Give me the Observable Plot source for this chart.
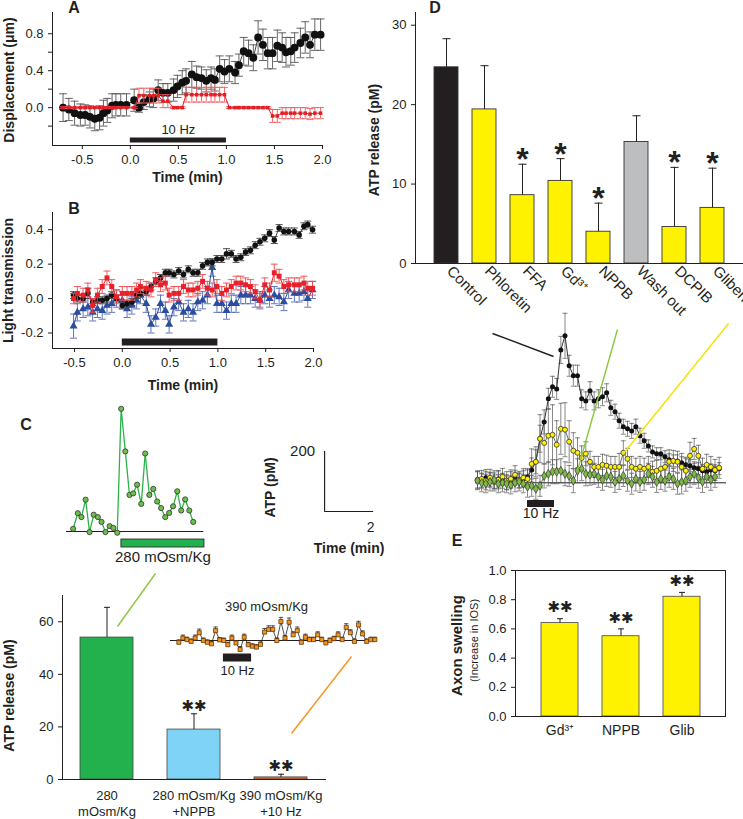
<!DOCTYPE html>
<html><head><meta charset="utf-8">
<script src="https://cdn.jsdelivr.net/npm/d3@7"></script>
<script src="https://cdn.jsdelivr.net/npm/@observablehq/plot@0.6"></script>
<style>
html,body{margin:0;padding:0;background:#fff;}
#fig{position:relative;width:743px;height:819px;overflow:hidden;font-family:'Liberation Sans',Arial,Helvetica,sans-serif;color:#231f20;}
#fig svg{position:absolute;left:0;top:0;}
.lbl{position:absolute;font-weight:bold;font-size:16px;line-height:1;transform:translate(-50%,-50%);}
</style></head><body><div id="fig"></div>
<script>
// ---------------- DATA ----------------
// Panel A: displacement (µm) vs time (min)
const timeA = [-0.70,-0.64,-0.58,-0.52,-0.47,-0.42,-0.37,-0.32,-0.28,-0.24,-0.19,-0.15,-0.10,-0.04,0.04,0.09,0.14,0.20,0.24,0.29,0.34,0.39,0.45,0.49,0.54,0.58,0.64,0.69,0.74,0.79,0.84,0.88,0.93,0.98,1.03,1.09,1.13,1.18,1.23,1.28,1.33,1.38,1.43,1.48,1.53,1.58,1.62,1.67,1.71,1.77,1.82,1.87,1.92,1.98];
const dispStim = [0.0,-0.02,-0.06,-0.08,-0.08,-0.10,-0.12,-0.11,-0.06,-0.03,0.02,0.03,0.03,0.03,0.08,0.0,0.06,0.09,0.10,0.19,0.16,0.16,0.19,0.23,0.27,0.29,0.36,0.33,0.32,0.29,0.32,0.30,0.42,0.39,0.42,0.38,0.46,0.61,0.59,0.54,0.76,0.68,0.59,0.59,0.67,0.65,0.60,0.61,0.65,0.70,0.76,0.68,0.79,0.79];
const dispStimErr = [0.15,0.12,0.13,0.12,0.11,0.12,0.13,0.13,0.14,0.13,0.13,0.12,0.12,0.12,0.12,0.05,0.08,0.08,0.10,0.11,0.10,0.10,0.12,0.12,0.13,0.13,0.14,0.12,0.12,0.12,0.12,0.12,0.14,0.13,0.14,0.12,0.12,0.15,0.14,0.14,0.18,0.17,0.17,0.17,0.17,0.16,0.16,0.15,0.16,0.16,0.17,0.14,0.17,0.17];
const dispCtrl = [0,0,0,0,0,0,0,0,0,0,0,0,0,0,0,0.13,0.13,0.13,0.13,0.13,0.07,0.07,0,0,0,0.14,0.14,0.14,0.14,0.14,0.14,0.14,0.14,0.14,0,0,0,0,0,0,0,0,0,-0.09,-0.09,-0.06,-0.06,-0.06,-0.06,-0.06,-0.06,-0.07,-0.06,-0.06];
const dispCtrlErr = [0.01,0.01,0.01,0.01,0.01,0.01,0.01,0.01,0.01,0.01,0.01,0.01,0.01,0.01,0.01,0.08,0.08,0.08,0.08,0.08,0.07,0.07,0.01,0.01,0.01,0.08,0.08,0.08,0.08,0.08,0.08,0.08,0.08,0.08,0.01,0.01,0.01,0.01,0.01,0.01,0.01,0.01,0.01,0.07,0.07,0.06,0.06,0.06,0.06,0.06,0.06,0.06,0.06,0.06];
const stimA = [0, 1];

// Panel B: light transmission vs time (min)
const timeB = [-0.51,-0.47,-0.41,-0.36,-0.31,-0.26,-0.21,-0.16,-0.11,-0.06,0.0,0.05,0.10,0.15,0.19,0.25,0.30,0.35,0.40,0.45,0.49,0.54,0.59,0.64,0.69,0.74,0.79,0.84,0.89,0.94,0.99,1.04,1.09,1.14,1.19,1.24,1.29,1.34,1.39,1.44,1.49,1.54,1.59,1.64,1.69,1.74,1.80,1.85,1.90,1.94,1.99];
const ltBlack = [0.02,0.0,0.0,0.03,-0.02,-0.01,-0.01,0.0,0.02,0.0,-0.04,-0.03,-0.02,0.02,0.03,0.04,0.07,0.10,0.12,0.15,0.15,0.14,0.16,0.14,0.17,0.15,0.15,0.19,0.21,0.21,0.23,0.23,0.26,0.26,0.23,0.24,0.27,0.28,0.31,0.33,0.35,0.38,0.34,0.41,0.39,0.39,0.39,0.37,0.42,0.43,0.40];
const ltBlackErr = [0.02,0.02,0.02,0.03,0.02,0.02,0.02,0.02,0.02,0.02,0.02,0.02,0.02,0.02,0.02,0.02,0.02,0.02,0.02,0.02,0.02,0.02,0.02,0.02,0.02,0.02,0.02,0.02,0.02,0.02,0.02,0.02,0.03,0.02,0.02,0.02,0.02,0.02,0.02,0.02,0.02,0.02,0.02,0.02,0.02,0.02,0.02,0.02,0.02,0.02,0.02];
const ltRed = [0.0,0.03,0.02,0.05,-0.04,0.02,0.07,0.12,0.07,0.01,0.03,0.03,0.03,0.05,0.07,0.06,0.05,0.11,0.08,0.09,0.02,0.03,0.03,0.07,0.05,0.05,0.06,0.10,0.06,0.05,0.07,0.03,0.05,0.07,0.09,0.09,0.08,0.07,0.04,-0.01,0.08,0.05,0.15,0.13,0.07,0.08,0.08,0.08,0.09,0.06,0.06];
const ltRedErr = [0.03,0.04,0.04,0.04,0.04,0.04,0.04,0.04,0.04,0.04,0.04,0.04,0.04,0.04,0.04,0.04,0.04,0.04,0.04,0.04,0.04,0.04,0.04,0.04,0.04,0.04,0.04,0.04,0.04,0.04,0.04,0.04,0.04,0.04,0.04,0.04,0.04,0.04,0.04,0.04,0.04,0.04,0.05,0.04,0.04,0.04,0.04,0.04,0.04,0.04,0.04];
const ltBlue = [-0.16,-0.08,-0.06,-0.05,-0.08,-0.06,-0.07,-0.04,-0.03,0.0,-0.01,-0.06,-0.04,-0.01,0.02,-0.03,-0.15,-0.11,-0.03,-0.07,-0.15,-0.05,-0.02,-0.08,-0.06,-0.08,-0.02,-0.01,0.02,0.18,-0.03,-0.03,-0.07,-0.03,-0.03,0.02,0.02,0.02,0.0,-0.01,0.02,0.0,0.02,0.01,-0.02,0.05,0.03,0.03,0.04,0.0,0.05];
const ltBlueErr = [0.07,0.05,0.05,0.05,0.05,0.05,0.05,0.05,0.05,0.05,0.05,0.05,0.05,0.05,0.05,0.05,0.05,0.05,0.05,0.05,0.05,0.05,0.05,0.05,0.05,0.05,0.05,0.05,0.05,0.05,0.05,0.05,0.05,0.05,0.05,0.05,0.05,0.05,0.05,0.05,0.05,0.05,0.05,0.05,0.05,0.05,0.05,0.05,0.05,0.05,0.05];
const stimB = [0, 1];

// Panel C inset: ATP (pM) during 280 mOsm/Kg
const timeC = [0.27,0.46,0.61,0.78,0.94,1.11,1.28,1.43,1.59,1.76,1.91,2.07,2.23,2.40,2.57,2.72,2.88,3.05,3.21,3.38,3.54,3.70,3.86,4.03,4.19,4.35,4.52,4.68,4.84,5.01,5.17];
const atpC = [9,61,48,106,-2,56,48,32,-2,18,12,-4,409,267,122,127,156,92,260,122,142,100,78,48,62,84,134,70,107,70,32];
const spanC = [0, 5.6];
const stimC = [2.24, 5.63];
const scaleBar = {t: 10.53, v: 66.7, dv: 200, dt: 2};

// Panel C inset: 390 mOsm/Kg + 10 Hz (10 s samples)
const atp390 = [-6,8,3,-3,8,26,0,-6,-11,33,2,0,-14,8,-8,-30,11,-14,-19,-22,-13,28,37,37,0,63,8,61,19,33,-6,11,3,3,19,3,-8,0,6,19,3,44,26,-3,52,22,-3,3,3];
const atp390Err = [8,10,8,8,10,12,8,8,8,12,8,8,8,10,8,10,10,8,8,8,8,12,12,12,8,14,8,14,10,12,8,10,8,8,10,8,8,8,8,10,8,12,10,8,12,10,8,8,8];
const t0_390 = 0.34, dt390 = 1/6;
const span390 = [0, 8.37];
const stim390 = [2.16, 3.31];

// Panel C bars
const cLabels = ["280\nmOsm/Kg", "280 mOsm/Kg\n+NPPB", "390 mOsm/Kg\n+10 Hz"];
const cValues = [54, 19, 0.8];
const cErrors = [11.5, 6, 1.2];
const cSig = ["", "✱✱", "✱✱"];

// Panel D bars
const dCats = ["Control","Phloretin","FFA","Gd³⁺","NPPB","Wash out","DCPIB","Gliben"];
const dValues = [24.7, 19.4, 8.6, 10.4, 4.0, 15.3, 4.6, 7.0];
const dErrors = [3.6, 5.5, 3.9, 2.8, 3.6, 3.3, 7.5, 5.0];
const dSig = ["", "", "*", "*", "*", "", "*", "*"];

// Panel D inset traces (ATP pM, 10 s samples)
const dtD = 1/6;
const dTraceBlack = [10,7,17,10,3,13,7,0,10,17,7,13,20,43,70,147,203,280,320,313,443,490,390,357,357,280,273,307,273,280,287,300,250,237,207,187,180,173,187,157,140,123,103,97,97,87,77,73,73,67,60,57,50,47,40,37,43,40,47];
const dTraceBlackErr = [27,25,27,25,23,27,25,23,27,25,23,27,27,40,40,45,40,35,35,35,45,75,35,35,35,30,30,30,30,30,30,30,25,25,25,25,25,25,25,25,25,20,20,20,20,20,20,20,20,20,20,20,20,20,20,20,20,20,20];
const dTraceYellow = [10,13,7,17,3,10,20,7,13,27,10,17,13,63,70,147,133,157,160,127,180,177,137,107,100,83,97,70,53,53,60,57,53,53,53,100,80,53,47,53,47,53,37,40,47,53,70,73,70,53,40,90,113,90,47,60,53,43,50];
const dTraceYellowErr = [30,28,30,28,30,30,28,30,30,30,28,30,30,50,50,80,70,90,100,80,85,90,70,60,50,40,40,35,35,35,35,35,35,35,45,40,35,35,35,35,35,35,35,35,40,40,40,35,35,45,45,45,35,35,35,35,35,35,35];
const dTraceGreen = [7,0,-3,3,10,-3,0,-3,-7,0,3,-3,-13,-10,-20,-10,23,30,37,37,40,30,23,7,40,47,30,27,30,20,10,23,20,3,13,23,7,-3,13,3,10,30,20,3,13,7,20,13,-3,3,7,20,30,17,3,20,10,20];
const dTraceGreenErr = [30,30,30,30,30,30,30,30,30,30,30,30,35,35,35,35,40,40,40,40,40,40,35,40,40,40,40,35,35,35,35,35,35,35,35,35,35,35,40,35,35,35,35,35,35,35,35,35,35,40,35,35,35,35,35,35,35,35];
const spanD = [-0.08, 9.96];
const stimD = [2.0, 3.08];

// Panel E bars
const eCats = ["Gd³⁺", "NPPB", "Glib"];
const eValues = [0.64, 0.55, 0.82];
const eErrors = [0.03, 0.05, 0.03];
const eSig = ["✱✱", "✱✱", "✱✱"];

// ---------------- STYLES ----------------
const W = 743, H = 819;
const FONT = "'Liberation Sans', Arial, Helvetica, sans-serif";
const INK = "#231f20";
const cFill = ["#22B14C", "#7FD3F7", "#F26F21"];
const dFill = {"Control": "#231f20", "Wash out": "#BCBEC0"};
const yellow = "#FFF200";
const linkColor = {green: "#8DC63F", orange: "#F7941D", black: "#231f20", yellow: "#F2E500"};
const annotationLinks = [
  {name: "green", x1: 117, y1: 626, x2: 155, y2: 573},
  {name: "orange", x1: 291, y1: 733, x2: 351, y2: 656},
  {name: "black", x1: 492, y1: 333, x2: 553, y2: 356},
  {name: "green", x1: 617, y1: 329, x2: 577, y2: 470},
  {name: "yellow", x1: 728, y1: 323, x2: 623, y2: 453}
];
const letters = [["A",74,8],["B",74,209],["C",26,425],["D",435,8],["E",457,541]];

// ---------------- HELPERS ----------------
const fig = document.getElementById("fig");
const style = {background: "transparent", fontFamily: FONT, color: INK, overflow: "visible"};
function frame(x0, y0, x1, y1) {
  return {width: W, height: H, marginLeft: x0, marginTop: y0, marginRight: W - x1, marginBottom: H - y1, style};
}
const capSym = {draw(ctx, size) { const w = Math.sqrt(size / Math.PI); ctx.moveTo(-w, 0); ctx.lineTo(w, 0); }};
function errorMarks(data, {x, y = "v", e = "e", stroke = INK, cap = 3, upper = true, lower = true, strokeWidth = 0.9}) {
  const gy = typeof y === "function" ? y : d => d[y];
  const ge = typeof e === "function" ? e : d => d[e];
  const hi = d => upper ? gy(d) + ge(d) : gy(d);
  const lo = d => lower ? gy(d) - ge(d) : gy(d);
  const m = [Plot.ruleX(data, {x, y1: lo, y2: hi, stroke, strokeWidth})];
  if (upper) m.push(Plot.dot(data, {x, y: hi, symbol: capSym, r: cap, stroke, strokeWidth, fill: "none"}));
  if (lower) m.push(Plot.dot(data, {x, y: lo, symbol: capSym, r: cap, stroke, strokeWidth, fill: "none"}));
  return m;
}
const zip3 = (ts, vs, es) => ts.map((t, i) => ({t, v: vs[i], e: es ? es[i] : 0}));
function add(svg) { fig.appendChild(svg); }
const yTitle = (text, dx, dy = 0, extra = {}) =>
  Plot.text([text], {frameAnchor: "left", rotate: -90, textAnchor: "middle", lineAnchor: "middle", dx, dy, fontWeight: "bold", fontSize: 14, ...extra});
const xTitle = (text, dy) =>
  Plot.text([text], {frameAnchor: "bottom", lineAnchor: "middle", dy, fontWeight: "bold", fontSize: 14});

// ---------------- PANEL A ----------------
{
  const xD = [-0.81, 2.0], yD = [-0.41, 1.03];
  const blk = zip3(timeA, dispStim, dispStimErr);
  const red = zip3(timeA, dispCtrl, dispCtrlErr);
  add(Plot.plot({
    ...frame(52, 12, 322, 145),
    x: {domain: xD}, y: {domain: yD},
    marks: [
      ...errorMarks(blk, {x: "t", stroke: "#555", cap: 4, strokeWidth: 0.9}),
      Plot.line(blk, {x: "t", y: "v", stroke: "#333", strokeWidth: 0.9}),
      Plot.dot(blk, {x: "t", y: "v", r: 3.2, fill: "#111", stroke: "#111"}),
      ...errorMarks(red, {x: "t", stroke: "#EE5A5F", cap: 3.5, strokeWidth: 0.9}),
      Plot.line(red, {x: "t", y: "v", stroke: "#E31E24", strokeWidth: 1}),
      Plot.dot(red, {x: "t", y: "v", symbol: "square", r: 2, fill: "#E31E24"}),
      Plot.frame({anchor: "left", stroke: INK}),
      Plot.frame({anchor: "bottom", stroke: INK}),
      Plot.axisY({ticks: [-0.2, 0, 0.2, 0.4, 0.6, 0.8], tickSize: 4, fontSize: 13, label: null,
        tickFormat: d => Math.round(d * 10) % 4 === 0 ? d.toFixed(1) : ""}),
      Plot.axisX({ticks: [-0.5, 0, 0.5, 1, 1.5, 2], tickSize: 4, fontSize: 13, label: null, tickFormat: d => d.toFixed(1)}),
      Plot.ruleY([stimA], {x1: d => d[0], x2: d => d[1], y: yD[0], dy: -5.5, strokeWidth: 5, stroke: INK}),
      Plot.text([stimA], {x: d => (d[0] + d[1]) / 2, y: yD[0], dy: -16, text: () => "10 Hz", fontSize: 13}),
      yTitle("Displacement (μm)", -43, 1),
      xTitle("Time (min)", 32)
    ]
  }));
}

// ---------------- PANEL B ----------------
{
  const xD = [-0.73, 2.0], yD = [-0.29, 0.5];
  const blk = zip3(timeB, ltBlack, ltBlackErr);
  const red = zip3(timeB, ltRed, ltRedErr);
  const blu = zip3(timeB, ltBlue, ltBlueErr);
  add(Plot.plot({
    ...frame(52, 212, 313, 348),
    x: {domain: xD}, y: {domain: yD},
    marks: [
      ...errorMarks(blu, {x: "t", stroke: "#4F67B5", cap: 3.5}),
      Plot.line(blu, {x: "t", y: "v", stroke: "#2B4DA0", strokeWidth: 1}),
      Plot.dot(blu, {x: "t", y: "v", symbol: "triangle", r: 3, fill: "#2B4DA0"}),
      ...errorMarks(blk, {x: "t", stroke: "#444", cap: 3.5}),
      Plot.line(blk, {x: "t", y: "v", stroke: "#333", strokeWidth: 0.9}),
      Plot.dot(blk, {x: "t", y: "v", r: 2.8, fill: "#111"}),
      ...errorMarks(red, {x: "t", stroke: "#EF4B50", cap: 3.5}),
      Plot.line(red, {x: "t", y: "v", stroke: "#E8202A", strokeWidth: 1}),
      Plot.dot(red, {x: "t", y: "v", symbol: "square", r: 2.8, fill: "#E8202A"}),
      Plot.frame({anchor: "left", stroke: INK}),
      Plot.frame({anchor: "bottom", stroke: INK}),
      Plot.axisY({ticks: [-0.2, 0, 0.2, 0.4], tickSize: 4, fontSize: 13, label: null, tickFormat: d => d.toFixed(1)}),
      Plot.axisX({ticks: [-0.5, 0, 0.5, 1, 1.5, 2], tickSize: 4, fontSize: 13, label: null, tickFormat: d => d.toFixed(1)}),
      Plot.ruleY([stimB], {x1: d => d[0], x2: d => d[1], y: yD[0], dy: -6.5, strokeWidth: 7, stroke: INK}),
      yTitle("Light transmission", -44),
      xTitle("Time (min)", 37)
    ]
  }));
}

// ---------------- PANEL C inset (280 mOsm/Kg) + scale bar ----------------
{
  const pts = zip3(timeC, atpC);
  add(Plot.plot({
    ...frame(60, 400, 390, 565),
    x: {domain: [-0.245, 13.22], axis: null}, y: {domain: [-113.3, 436.6], axis: null},
    marks: [
      Plot.ruleY([0], {x1: spanC[0], x2: spanC[1], stroke: INK, strokeWidth: 1}),
      Plot.line(pts, {x: "t", y: "v", stroke: "#2DB34A", strokeWidth: 1.3}),
      Plot.dot(pts, {x: "t", y: "v", r: 2.6, fill: "#6CC04A", stroke: "#333", strokeWidth: 0.8}),
      Plot.rect([stimC], {x1: d => d[0], x2: d => d[1], y1: 0, y2: 0, insetTop: 8, insetBottom: -16, fill: "#22B14C", stroke: INK, strokeWidth: 0.8}),
      Plot.text([stimC], {x: d => (d[0] + d[1]) / 2, y: 0, dy: 26, text: () => "280 mOsm/Kg", fontSize: 15}),
      Plot.ruleX([scaleBar], {x: "t", y1: "v", y2: d => d.v + d.dv, stroke: INK, strokeWidth: 1.2}),
      Plot.ruleY([scaleBar], {y: "v", x1: "t", x2: d => d.t + d.dt, stroke: INK, strokeWidth: 1.2}),
      Plot.text([scaleBar], {x: "t", y: d => d.v + d.dv, dx: -22, text: d => String(d.dv), fontSize: 15}),
      Plot.text([scaleBar], {x: "t", y: d => d.v + d.dv / 2, dx: -54, dy: 6, rotate: -90, text: () => "ATP (pM)", fontWeight: "bold", fontSize: 14}),
      Plot.text([scaleBar], {x: d => d.t + d.dt, y: "v", dx: -3, dy: 16, text: d => String(d.dt), fontSize: 14}),
      Plot.text([scaleBar], {x: d => d.t + d.dt / 2, y: "v", dy: 37, text: () => "Time (min)", fontWeight: "bold", fontSize: 14})
    ]
  }));
}

// ---------------- PANEL C inset (390 mOsm/Kg) ----------------
{
  const pts = atp390.map((v, i) => ({t: t0_390 + i * dt390, v, e: atp390Err[i]}));
  add(Plot.plot({
    ...frame(165, 598, 380, 668),
    x: {domain: [-0.204, 8.571], axis: null}, y: {domain: [-93.3, 140], axis: null},
    marks: [
      Plot.ruleY([0], {x1: span390[0], x2: span390[1], stroke: INK, strokeWidth: 1}),
      ...errorMarks(pts, {x: "t", stroke: "#333", cap: 2.2, lower: false, strokeWidth: 0.8}),
      Plot.line(pts, {x: "t", y: "v", stroke: "#222", strokeWidth: 0.8}),
      Plot.dot(pts, {x: "t", y: "v", symbol: "square", r: 2.3, fill: "#F7941D", stroke: "#4a2a00", strokeWidth: 0.7}),
      Plot.ruleY([stim390], {x1: d => d[0], x2: d => d[1], y: 0, dy: 17, strokeWidth: 8, stroke: INK}),
      Plot.text([stim390], {x: d => (d[0] + d[1]) / 2, y: 0, dy: 30, text: () => "10 Hz", fontSize: 13}),
      Plot.text(["390 mOsm/Kg"], {frameAnchor: "top", lineAnchor: "middle", dx: -6.5, dy: 8, fontSize: 13})
    ]
  }));
}

// ---------------- PANEL C bars ----------------
{
  const data = cLabels.map((label, i) => ({label, v: cValues[i], e: cErrors[i], sig: cSig[i], i}));
  add(Plot.plot({
    ...frame(62, 595, 325, 779),
    x: {domain: cLabels, paddingInner: 0.39, paddingOuter: 0.195, axis: null},
    y: {domain: [0, 70]},
    color: {type: "identity"},
    marks: [
      Plot.barY(data, {x: "label", y: "v", fill: d => cFill[d.i], stroke: "#444", strokeWidth: 0.8}),
      ...errorMarks(data, {x: "label", stroke: INK, cap: 3, lower: false, strokeWidth: 1}),
      Plot.text(data.filter(d => d.sig), {x: "label", y: d => d.v + d.e, text: "sig", dy: -8, fontSize: 15, fontFamily: "DejaVu Sans", fill: INK}),
      Plot.frame({anchor: "left", stroke: INK}),
      Plot.frame({anchor: "bottom", stroke: INK}),
      Plot.axisY({ticks: [0, 20, 40, 60], tickSize: 4, fontSize: 13, label: null}),
      Plot.text(data, {x: "label", frameAnchor: "bottom", dy: 9.5, lineAnchor: "top", lineHeight: 1.23, text: "label", fontSize: 13}),
      yTitle("ATP release (pM)", -53, 8)
    ]
  }));
}

// ---------------- PANEL D bars ----------------
{
  const data = dCats.map((cat, i) => ({cat, v: dValues[i], e: dErrors[i], sig: dSig[i]}));
  add(Plot.plot({
    ...frame(415, 12, 743, 263),
    x: {domain: dCats, paddingInner: 0.37, paddingOuter: 0.5},
    y: {domain: [0, 31.6]},
    color: {type: "identity"},
    marks: [
      Plot.barY(data, {x: "cat", y: "v", fill: d => dFill[d.cat] ?? yellow, stroke: "#333", strokeWidth: 0.9}),
      ...errorMarks(data, {x: "cat", stroke: INK, cap: 4, lower: false, strokeWidth: 1}),
      Plot.text(data.filter(d => d.sig), {x: "cat", y: d => d.v + d.e, text: "sig", lineAnchor: "bottom", dy: 6, fontSize: 32, fontWeight: "bold"}),
      Plot.frame({anchor: "left", stroke: INK}),
      Plot.frame({anchor: "bottom", stroke: INK}),
      Plot.axisY({ticks: [0, 10, 20, 30], tickSize: 4, fontSize: 13, label: null}),
      Plot.axisX({tickRotate: 45, tickSize: 0, tickPadding: 5, dx: 3, fontSize: 15, label: null}),
      yTitle("ATP release (pM)", -41, 2)
    ]
  }));
}

// ---------------- PANEL D inset ----------------
{
  const toPts = (vs, es) => vs.map((v, i) => ({t: i * dtD, v, e: es[i]}));
  const blk = toPts(dTraceBlack, dTraceBlackErr);
  const yel = toPts(dTraceYellow, dTraceYellowErr);
  const grn = toPts(dTraceGreen, dTraceGreenErr);
  add(Plot.plot({
    ...frame(470, 320, 735, 525),
    x: {domain: [-0.28, 10.32], axis: null}, y: {domain: [-142.3, 541], axis: null},
    marks: [
      Plot.ruleY([0], {x1: spanD[0], x2: spanD[1], stroke: INK, strokeWidth: 1}),
      ...errorMarks(blk, {x: "t", stroke: "#555", cap: 2.5, strokeWidth: 0.7}),
      ...errorMarks(yel, {x: "t", stroke: "#555", cap: 2.5, strokeWidth: 0.7}),
      ...errorMarks(grn, {x: "t", stroke: "#555", cap: 2.5, strokeWidth: 0.7}),
      Plot.line(blk, {x: "t", y: "v", stroke: "#333", strokeWidth: 1}),
      Plot.dot(blk, {x: "t", y: "v", r: 2.5, fill: "#111"}),
      Plot.line(yel, {x: "t", y: "v", stroke: "#444", strokeWidth: 0.8}),
      Plot.dot(yel, {x: "t", y: "v", r: 2.5, fill: yellow, stroke: "#333", strokeWidth: 0.8}),
      Plot.line(grn, {x: "t", y: "v", stroke: "#444", strokeWidth: 0.8}),
      Plot.dot(grn, {x: "t", y: "v", symbol: "diamond", r: 2.7, fill: "#7DBA45", stroke: "#333", strokeWidth: 0.7}),
      Plot.ruleY([stimD], {x1: d => d[0], x2: d => d[1], y: 0, dy: 20.7, strokeWidth: 7, stroke: INK}),
      Plot.text([stimD], {x: d => (d[0] + d[1]) / 2, y: 0, dy: 31, text: () => "10 Hz", fontSize: 14})
    ]
  }));
}

// ---------------- PANEL E ----------------
{
  const data = eCats.map((cat, i) => ({cat, v: eValues[i], e: eErrors[i], sig: eSig[i]}));
  add(Plot.plot({
    ...frame(515, 570, 725, 716),
    x: {domain: eCats, padding: 0.4},
    y: {domain: [0, 1]},
    marks: [
      Plot.barY(data, {x: "cat", y: "v", fill: yellow, stroke: "#555", strokeWidth: 0.9}),
      ...errorMarks(data, {x: "cat", stroke: INK, cap: 3, lower: false, strokeWidth: 1}),
      Plot.text(data, {x: "cat", y: d => d.v + d.e, text: "sig", dy: -11, fontSize: 15, fontFamily: "DejaVu Sans", fill: INK}),
      Plot.frame({stroke: INK}),
      Plot.axisY({ticks: [0, 0.2, 0.4, 0.6, 0.8, 1.0], tickSize: 4, fontSize: 13, label: null, tickFormat: d => d.toFixed(1)}),
      Plot.axisX({tickSize: 0, tickPadding: 9, fontSize: 14, label: null}),
      yTitle("Axon swelling", -58, 2, {fontSize: 15}),
      yTitle("(Increase in IOS)", -41, -3, {fontSize: 11, fontWeight: "normal"})
    ]
  }));
}

// ---------------- connector lines ----------------
add(Plot.plot({
  width: W, height: H, margin: 0, style,
  x: {domain: [0, W], range: [0, W], axis: null},
  y: {domain: [0, H], range: [0, H], axis: null},
  marks: annotationLinks.map(l => Plot.link([l], {x1: "x1", y1: "y1", x2: "x2", y2: "y2", stroke: linkColor[l.name], strokeWidth: 1.4}))
}));

// ---------------- panel letters ----------------
for (const [t, x, y] of letters) {
  const d = document.createElement("div");
  d.className = "lbl"; d.textContent = t;
  d.style.left = x + "px"; d.style.top = y + "px";
  fig.appendChild(d);
}
</script></body></html>
